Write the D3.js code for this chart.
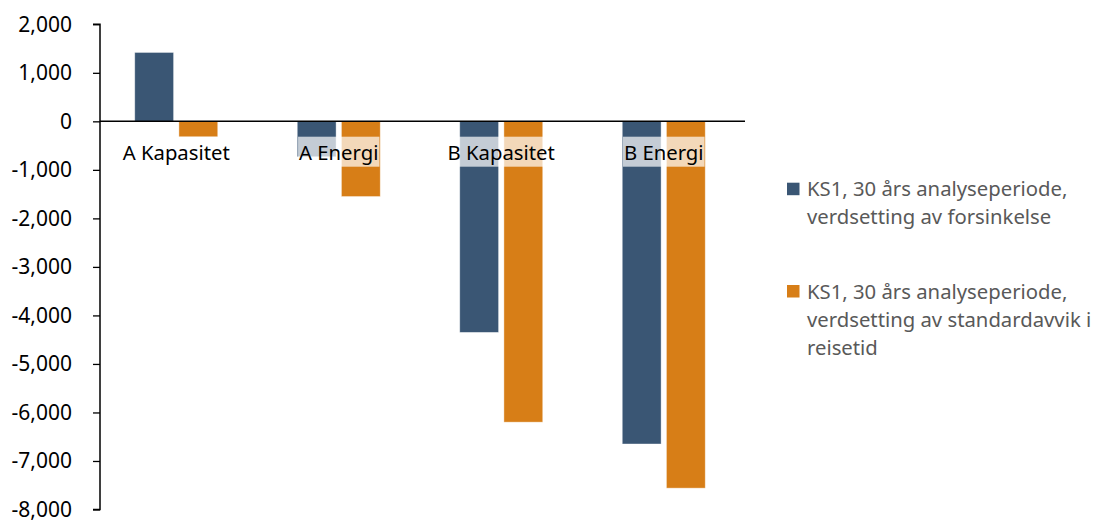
<!DOCTYPE html>
<html>
<head>
<meta charset="utf-8">
<script src="https://cdn.jsdelivr.net/npm/d3@7"></script>
<style>
  html, body { margin: 0; padding: 0; background: #fff; }
  svg { display: block; font-family: "Noto Sans", "Open Sans", sans-serif; }
</style>
</head>
<body>
<svg id="chart" width="1100" height="525"></svg>
<script>
// Categories and series values
const categories = ["A Kapasitet", "A Energi", "B Kapasitet", "B Energi"];
const forsinkelse = [1420, -730, -4350, -6650];
const standardavvik = [-320, -1550, -6200, -7560];
const yTickValues = [2000, 1000, 0, -1000, -2000, -3000, -4000, -5000, -6000, -7000, -8000];
const legendLines = [
  ["KS1, 30 års analyseperiode,", "verdsetting av forsinkelse"],
  ["KS1, 30 års analyseperiode,", "verdsetting av standardavvik i", "reisetid"]
];
const colors = ["#3a5674", "#d77e17"];

const series = [forsinkelse, standardavvik];
const fontSize = "20.3px";
const tickFontSize = "21px";

const svg = d3.select("#chart");
const fmt = d3.formatLocale({ decimal: ".", thousands: ",", grouping: [3], currency: ["", ""], minus: "-" }).format(",");

const y = d3.scaleLinear().domain([-8000, 2000]).range([509.5, 24.3]);
const x = d3.scaleBand().domain(categories).range([95, 745]);
const inner = d3.scaleBand().domain([0, 1]).range([0, 83]).paddingInner(0.12);

// Bars
series.forEach((vals, si) => {
  svg.append("g")
    .selectAll("rect")
    .data(vals)
    .join("rect")
    .attr("x", (d, i) => x(categories[i]) + x.bandwidth() / 2 - 41.5 + inner(si))
    .attr("width", inner.bandwidth())
    .attr("y", d => y(Math.max(0, d)))
    .attr("height", d => Math.abs(y(d) - y(0)))
    .attr("fill", colors[si])
    .attr("stroke", "rgba(255,255,255,0.5)")
    .attr("stroke-width", 0.8);
});

// Y axis
const yAxis = svg.append("g")
  .attr("transform", "translate(100,0)")
  .call(d3.axisLeft(y).tickValues(yTickValues).tickSize(7).tickPadding(21).tickFormat(fmt));
yAxis.select(".domain").attr("stroke", "#000").attr("stroke-width", 1.5).attr("d", `M-7,${y(2000)}H0V${y(-8000)}H-7`);
yAxis.selectAll(".tick line").attr("stroke", "#000").attr("stroke-width", 1.3);
yAxis.selectAll(".tick text").attr("fill", "#000").style("font-size", tickFontSize).style("font-family", "'Noto Sans', 'Open Sans', sans-serif");

// Zero line
svg.append("line")
  .attr("x1", 100).attr("x2", 745)
  .attr("y1", y(0)).attr("y2", y(0))
  .attr("stroke", "#000").attr("stroke-width", 1.5);

// Category labels with translucent backgrounds
const labelG = svg.append("g");
categories.forEach(c => {
  const g = labelG.append("g");
  const t = g.append("text")
    .attr("x", x(c) + x.bandwidth() / 2)
    .attr("y", 160)
    .attr("text-anchor", "middle")
    .attr("fill", "#000")
    .style("font-size", fontSize)
    .text(c);
  const bb = t.node().getBBox();
  g.insert("rect", "text")
    .attr("x", bb.x - 1).attr("width", bb.width + 2)
    .attr("y", 136.7).attr("height", 30)
    .attr("fill", "#fff").attr("fill-opacity", 0.7);
});

// Legend
const legendTops = [182.7, 285];
legendLines.forEach((lines, i) => {
  const g = svg.append("g");
  g.append("rect")
    .attr("x", 787).attr("y", legendTops[i])
    .attr("width", 12.5).attr("height", 12.5)
    .attr("fill", colors[i]);
  lines.forEach((ln, j) => {
    g.append("text")
      .attr("x", 807)
      .attr("y", legendTops[i] + 13.5 + j * 28)
      .attr("fill", "#595959")
      .style("font-size", fontSize)
      .text(ln);
  });
});
</script>
</body>
</html>
